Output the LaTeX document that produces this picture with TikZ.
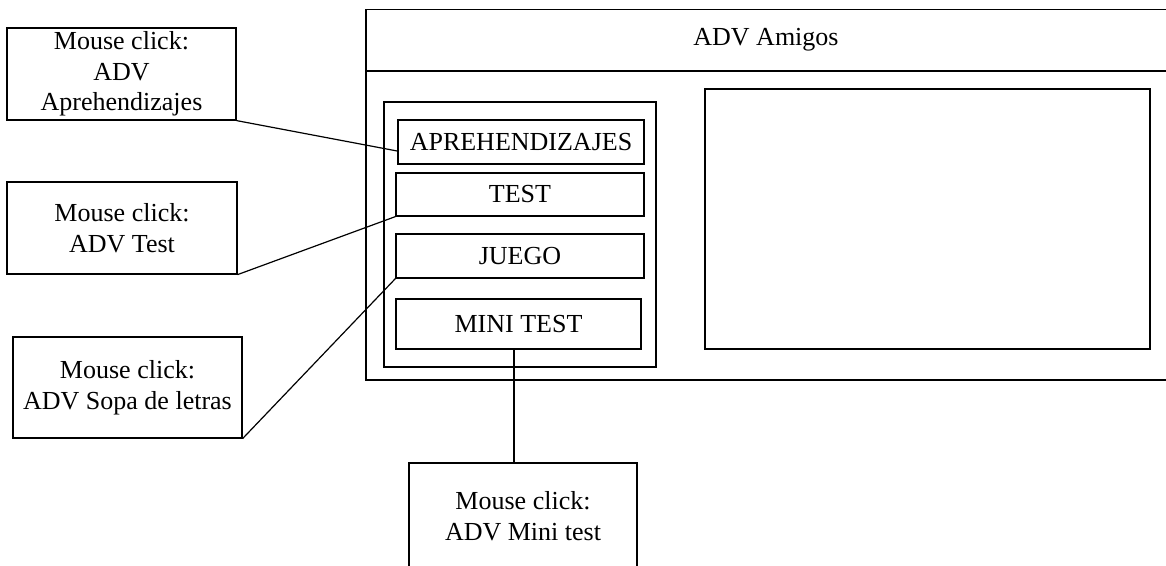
\documentclass[tikz,border=0pt]{standalone}
\usepackage{fontspec}
\setmainfont{Liberation Serif}
\usetikzlibrary{calc}
\begin{document}
\begin{tikzpicture}[x=1pt,y=-1pt,
  box/.style={draw, line width=1.2pt, inner sep=0pt, align=center, font=\fontsize{26}{30.5}\selectfont},
  plain/.style={draw, line width=1.2pt, inner sep=0pt},
  conn/.style={line width=1.2pt}]
\useasboundingbox (0,0) rectangle (1166,565);
\clip (0,0) rectangle (1166,565);
% application window
\draw[conn] (1180,9.5) -- (366,9.5) -- (366,380) -- (1180,380);
\draw[conn] (366,71) -- (1180,71);
\node[font=\fontsize{26}{30.5}\selectfont] (title) at (766,40) {ADV Amigos};
% panels
\node[plain, minimum width=272pt, minimum height=265pt] (panel) at (520,234.5) {};
\node[plain, minimum width=445pt, minimum height=260pt] (view) at (927.5,219) {};
% buttons
\node[box, minimum width=246pt, minimum height=44pt] (aprh) at (521,142) {APREHENDIZAJES};
\node[box, minimum width=248pt, minimum height=43pt] (test) at (520,194.5) {TEST};
\node[box, minimum width=248pt, minimum height=44pt] (juego) at (520,256) {JUEGO};
\node[box, minimum width=245pt, minimum height=50pt] (mini) at (518.5,324) {MINI TEST};
% callouts
\node[box, minimum width=229pt, minimum height=92pt] (c1) at (121.5,74) {Mouse click:\\ADV\\Aprehendizajes};
\node[box, minimum width=230pt, minimum height=92pt] (c2) at (122,228) {Mouse click:\\ADV Test};
\node[box, minimum width=229pt, minimum height=101pt] (c3) at (127.5,387.5) {Mouse click:\\ADV Sopa de letras};
\node[box, minimum width=228pt, minimum height=106pt] (c4) at (523,516) {Mouse click:\\ADV Mini test};
% connectors
\draw[conn] (c1.south east) -- ($(aprh.south west)!0.3!(aprh.north west)$);
\draw[conn] (c2.south east) -- (test.south west);
\draw[conn] (c3.south east) -- (juego.south west);
\draw[conn] ($(mini.south)+(-4.5,0)$) coordinate (mt) -- (mt |- c4.north);
\end{tikzpicture}
\end{document}
